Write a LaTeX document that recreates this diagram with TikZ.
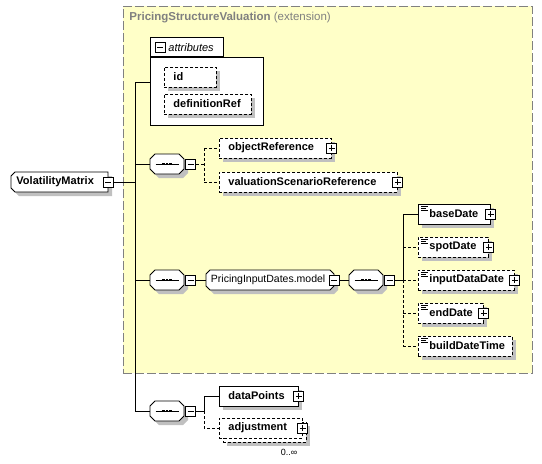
\documentclass[tikz,border=0pt]{standalone}
\usepackage{fontspec}
\setmainfont{Liberation Sans}
\usetikzlibrary{shadows}
\definecolor{shgray}{RGB}{192,192,192}
\definecolor{ylw}{RGB}{255,255,200}
\definecolor{bord}{RGB}{128,128,128}
\tikzset{
 shd/.style={general shadow={fill=shgray, shadow xshift=4pt, shadow yshift=-4pt}},
 dsh/.style={dash pattern=on 3pt off 2pt},
 elem/.style={draw, fill=white, rectangle, anchor=west, minimum height=20pt, inner xsep=0pt, inner ysep=0pt, align=left, font=\fontsize{11}{13}\selectfont\bfseries},
 lpad/.style={execute at begin node={\hspace*{#1}}},
 pm/.style={draw, fill=white, rectangle, minimum size=10pt, inner sep=0pt, line width=1pt},
 minusbox/.style={pm, path picture={\draw[line width=0.9pt] ([xshift=2pt]path picture bounding box.west) -- ([xshift=-2pt]path picture bounding box.east);}},
 plusbox/.style={pm, path picture={\draw[line width=0.9pt] ([xshift=2pt]path picture bounding box.west) -- ([xshift=-2pt]path picture bounding box.east); \draw[line width=0.9pt] ([yshift=-2pt]path picture bounding box.north) -- ([yshift=2pt]path picture bounding box.south);}},
 frame/.style={rectangle, inner sep=0pt, outer sep=0pt, anchor=west, minimum height=20pt},
}
% octagon outline round a frame node: name, chamfer
\newcommand\octo[2]{%
 \path[draw, fill=white, shd] ([xshift=#2pt]#1.north west) -- ([xshift=-#2pt]#1.north east) -- ([yshift=-#2pt]#1.north east) -- ([yshift=#2pt]#1.south east) -- ([xshift=-#2pt]#1.south east) -- ([xshift=#2pt]#1.south west) -- ([yshift=#2pt]#1.south west) -- ([yshift=-#2pt]#1.north west) -- cycle;}
% outline with chamfers on the left only
\newcommand\octoL[2]{%
 \path[draw, fill=white, shd] ([xshift=#2pt]#1.north west) -- (#1.north east) -- (#1.south east) -- ([xshift=#2pt]#1.south west) -- ([yshift=#2pt]#1.south west) -- ([yshift=-#2pt]#1.north west) -- cycle;}
\newcommand\mkseq[3]{%
  \node[frame, minimum width=34pt] (#1) at (#2,#3) {};
  \octo{#1}{5}
  \node[minusbox, anchor=west] (#1m) at ([xshift=1pt]#1.east) {};
  \draw ([xshift=-11.5pt]#1.center) -- ([xshift=11.5pt]#1.center);
  \foreach \dx in {-3.5,0,3.5} \fill ([xshift=\dx pt]#1.center) +(-1.3,-1.3) rectangle +(1.3,1.3);
}
\newcommand\mkicon[1]{%
  \draw[line width=0.8pt] ([shift={(3pt,-2.5pt)}]#1.north west) -- ++(6.5,0);
  \draw[line width=0.8pt] ([shift={(3pt,-4.5pt)}]#1.north west) -- ++(5,0);
  \draw[line width=0.8pt] ([shift={(3pt,-6.5pt)}]#1.north west) -- ++(6.5,0);
}
\begin{document}
\begin{tikzpicture}[x=1pt,y=-1pt,line width=0.9pt]
\useasboundingbox (0,0) rectangle (542,464);
% extension area
\node[draw=bord, fill=ylw, dash pattern=on 9pt off 3pt, rectangle, anchor=north west, minimum width=409pt, minimum height=367pt, inner sep=0pt] (ext) at (122.5,5.5) {};
\node[anchor=west, text=bord, inner sep=0pt, font=\fontsize{11.5}{13}\selectfont] (title) at (129,18) {\textbf{PricingStructureValuation} (extension)};
% attributes
\node[draw, fill=white, rectangle, anchor=north west, minimum width=113pt, minimum height=68pt, inner sep=0pt] (attr) at (150,57) {};
\node[draw, fill=white, rectangle, anchor=south west, minimum width=73pt, minimum height=19pt, inner sep=0pt] (attrtab) at (150,57) {};
\node[minusbox] (attrm) at (160,47.5) {};
\node[anchor=west, inner sep=0pt, font=\fontsize{11}{13}\selectfont\itshape] (attrt) at (168,47.5) {attributes};
\node[elem, shd, dsh, text width=52pt, lpad=9pt] (id) at (164,77) {id};
\node[elem, shd, dsh, text width=87pt, lpad=9pt] (defref) at (164,104) {definitionRef};
% root
\node[frame, minimum width=97pt] (vm) at (11,182) {};
\octoL{vm}{4}
\node[anchor=west, inner sep=0pt, font=\fontsize{11}{13}\selectfont\bfseries] (vmt) at ([xshift=5pt]vm.west) {VolatilityMatrix};
\node[minusbox] (vmm) at (vm.east) {};
% sequences
\mkseq{sa}{150}{164}
\mkseq{sb}{150}{280}
\mkseq{sc}{349}{280}
\mkseq{sd}{150}{411}
% first sequence children
\node[elem, shd, dsh, text width=112pt, lpad=9pt] (oref) at (219,148) {objectReference};
\node[plusbox] (orefp) at (oref.east) {};
\node[elem, shd, dsh, text width=178pt, lpad=9pt] (vsr) at (219,182) {valuationScenarioReference};
\node[plusbox] (vsrp) at (vsr.east) {};
% group
\node[frame, minimum width=128pt] (pid) at (206,280) {};
\octo{pid}{4}
\node[anchor=west, inner sep=0pt, font=\fontsize{10.5}{12}\selectfont] (pidt) at ([xshift=4.5pt]pid.west) {PricingInputDates.model};
\node[minusbox] (pidm) at (pid.east) {};
% dates
\node[elem, shd, text width=72pt, lpad=11pt] (bd) at (418,214) {baseDate};
\node[plusbox] (bdp) at (bd.east) {};
\node[elem, shd, dsh, text width=70pt, lpad=11pt] (spd) at (418,247) {spotDate};
\node[plusbox] (spdp) at (spd.east) {};
\node[elem, shd, dsh, text width=96pt, lpad=11pt] (idd) at (418,280) {inputDataDate};
\node[plusbox] (iddp) at (idd.east) {};
\node[elem, shd, dsh, text width=65pt, lpad=11pt] (edt) at (418,313) {endDate};
\node[plusbox] (edtp) at (edt.east) {};
\node[elem, shd, dsh, text width=94pt, lpad=11pt] (bdt) at (418,346) {buildDateTime};
\mkicon{bd}\mkicon{spd}\mkicon{idd}\mkicon{edt}\mkicon{bdt}
% last sequence children
\node[elem, shd, text width=79pt, lpad=9pt] (dp) at (219,396) {dataPoints};
\node[plusbox] (dpp) at (dp.east) {};
\node[elem, shd, dsh, text width=83pt] (adjb) at (223,432) {};
\node[elem, dsh, text width=83pt, lpad=9pt] (adj) at (219,428) {adjustment};
\node[plusbox] (adjp) at (adj.east) {};
\node[inner sep=0pt, font=\fontsize{9}{10}\selectfont] (occ) at (289,452) {0..∞};
% connectors
\coordinate (ta) at (135,82);
\coordinate (tb) at (135,411);
\draw (ta) -- (tb);
\draw (ta) -- (ta -| attr.west);
\draw (vmm.east) -- (vmm.east -| ta);
\draw (sa.west -| ta) -- (sa.west);
\draw (sb.west -| ta) -- (sb.west);
\draw (sd.west -| ta) -- (sd.west);
\coordinate (ba) at (204,164);
\draw[dsh] (sam.east) -- (ba);
\draw[dsh] (oref.west -| ba) -- (vsr.west -| ba);
\draw[dsh] (oref.west -| ba) -- (oref.west);
\draw[dsh] (vsr.west -| ba) -- (vsr.west);
\draw (sbm.east) -- (pid.west);
\draw (pidm.east) -- (sc.west);
\coordinate (bc) at (403,280);
\draw (scm.east) -- (bc);
\draw (bd.west -| bc) -- (bc);
\draw (bd.west -| bc) -- (bd.west);
\draw[dsh] (bc) -- (bdt.west -| bc);
\draw[dsh] (spd.west -| bc) -- (spd.west);
\draw[dsh] (idd.west -| bc) -- (idd.west);
\draw[dsh] (edt.west -| bc) -- (edt.west);
\draw[dsh] (bdt.west -| bc) -- (bdt.west);
\coordinate (bdd) at (204,411);
\draw (sdm.east) -- (bdd);
\draw (dp.west -| bdd) -- (bdd);
\draw (dp.west -| bdd) -- (dp.west);
\draw[dsh] (bdd) -- (adj.west -| bdd) -- (adj.west);
\end{tikzpicture}
\end{document}
